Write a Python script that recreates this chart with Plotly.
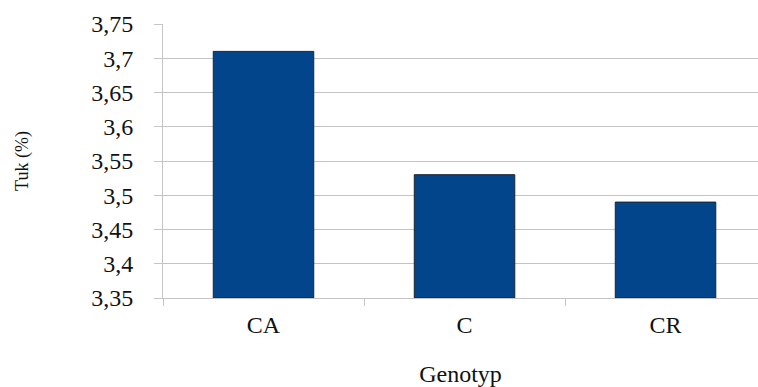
import plotly.graph_objects as go

# Fat content by genotype
genotypes = ["CA", "C", "CR"]
fat_pct = [3.71, 3.53, 3.49]

y_ticks = [3.35, 3.40, 3.45, 3.50, 3.55, 3.60, 3.65, 3.70, 3.75]
y_tick_labels = ["3,35", "3,4", "3,45", "3,5", "3,55", "3,6", "3,65", "3,7", "3,75"]

Y_FLOOR = 3.35
FONT = "'Liberation Serif', 'Times New Roman', 'DejaVu Serif', serif"
GRID = "#c4c4c4"

fig = go.Figure(
    go.Bar(
        x=genotypes,
        y=[v - Y_FLOOR for v in fat_pct],  # bars rise from the axis floor
        base=Y_FLOOR,
        width=0.5,
        marker=dict(color="#02458a", line=dict(color="#1c2433", width=1)),
        hoverinfo="skip",
    )
)

fig.update_layout(
    width=758,
    height=387,
    margin=dict(l=163, r=0, t=24, b=89),
    paper_bgcolor="white",
    plot_bgcolor="white",
    showlegend=False,
    font=dict(family=FONT, size=24, color="#111111"),
)

fig.update_xaxes(
    range=[-0.5, 2.46],
    showline=True,
    linecolor=GRID,
    linewidth=1,
    ticks="outside",
    tickson="boundaries",
    ticklen=7,
    tickcolor=GRID,
    ticklabelstandoff=5,
    tickfont=dict(family=FONT, size=24),
    title=dict(text="Genotyp", font=dict(family=FONT, size=24), standoff=30),
    showgrid=False,
)

fig.update_yaxes(
    range=[3.35, 3.75],
    tickvals=y_ticks,
    ticktext=y_tick_labels,
    tickfont=dict(family=FONT, size=24),
    showgrid=True,
    gridcolor=GRID,
    gridwidth=1,
    showline=True,
    linecolor=GRID,
    ticks="outside",
    ticklen=8,
    tickcolor=GRID,
    ticklabelstandoff=16,
    zeroline=False,
    title=dict(text="Tuk (%)", font=dict(family=FONT, size=18), standoff=57),
)

fig.write_html("out.html")
